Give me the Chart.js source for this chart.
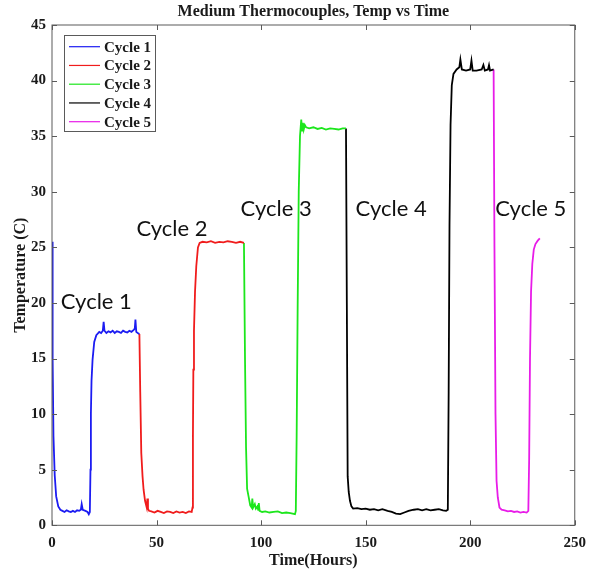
<!DOCTYPE html>
<html>
<head>
<meta charset="utf-8">
<script src="https://cdn.jsdelivr.net/npm/chart.js@4.4.1/dist/chart.umd.min.js"></script>
<style>
  html, body { margin: 0; padding: 0; background: #ffffff; }
  #wrap { width: 595px; height: 571px; }
</style>
</head>
<body>
<div id="wrap"><canvas id="chart" width="595" height="571"></canvas></div>
<script>
// Medium thermocouple readings, five heating/cooling cycles
const cycleLabels = ['Cycle 1', 'Cycle 2', 'Cycle 3', 'Cycle 4', 'Cycle 5'];

const cycle1Hours = [0, 0.3, 0.7, 1.3, 2, 3, 4, 5, 6, 7, 8, 9, 10, 11, 12, 13, 13.8, 14.2, 14.7, 16, 17, 17.6, 18.1, 18.4, 18.6, 18.9, 19.4, 20.2, 21.2, 22.6, 23.5, 24.3, 24.7, 25.1, 26, 27, 28, 29, 30, 31, 32, 33, 34, 35, 36, 37, 38, 39.2, 39.6, 39.9, 40.3, 41, 41.8];
const cycle1Temps = [25.5, 15, 8, 4.5, 2.6, 1.7, 1.4, 1.3, 1.2, 1.35, 1.25, 1.2, 1.3, 1.2, 1.35, 1.3, 1.4, 1.9, 1.4, 1.3, 1.2, 1.0, 1.2, 5, 10, 13, 14.9, 16.5, 17.1, 17.4, 17.3, 17.5, 18.3, 17.5, 17.3, 17.45, 17.35, 17.5, 17.3, 17.45, 17.4, 17.3, 17.5, 17.4, 17.35, 17.5, 17.4, 17.6, 17.7, 18.5, 17.4, 17.3, 17.2];

const cycle2Hours = [41.8, 42.2, 42.7, 43.3, 43.8, 44.5, 45.3, 45.6, 45.9, 46.4, 47.5, 49, 50.5, 52, 53.5, 55, 56.5, 58, 59.5, 61, 62.5, 64, 65.5, 66.8, 67.2, 67.4, 67.6, 67.9, 68.4, 69, 69.8, 70.6, 72, 74, 76, 78, 80, 82, 84, 86, 88, 90, 91.8];
const cycle2Temps = [17.2, 12, 6.5, 4.4, 3.2, 2.2, 1.6, 2.4, 1.5, 1.3, 1.25, 1.15, 1.3, 1.2, 1.1, 1.25, 1.2, 1.1, 1.25, 1.15, 1.2, 1.1, 1.25, 1.2, 1.6, 8, 14, 17.5, 21, 23.3, 25, 25.4, 25.5, 25.45, 25.55, 25.4, 25.5, 25.45, 25.55, 25.5, 25.4, 25.5, 25.4];

const cycle3Hours = [91.8, 92.3, 92.8, 93.3, 94, 94.8, 95.5, 95.8, 96.2, 97, 97.5, 98.2, 98.6, 98.9, 99.3, 100.5, 102, 104, 106, 108, 110, 112, 114, 116.2, 116.6, 117.0, 117.5, 118.0, 118.6, 119.2, 119.6, 120.0, 120.4, 120.9, 121.5, 123, 125, 127, 129, 131, 133, 135, 137, 139, 140.6];
const cycle3Temps = [25.4, 15, 7, 3.3, 2.6, 1.8, 1.6, 2.4, 1.6, 1.9, 1.5, 1.7, 1.4, 2.0, 1.3, 1.2, 1.25, 1.15, 1.2, 1.25, 1.1, 1.15, 1.1, 1.0, 1.3, 8, 20, 30, 35, 36.5, 35.5, 36.2, 35.6, 36, 35.8, 35.7, 35.8, 35.65, 35.75, 35.6, 35.7, 35.65, 35.6, 35.7, 35.7];

const cycle4Hours = [140.6, 141.0, 141.4, 141.9, 142.5, 143.2, 144, 146, 148, 150, 152, 154, 156, 158, 160.5, 162.5, 164.5, 166.5, 168.5, 170.5, 173, 175, 177, 179, 181, 183, 185, 187, 188.5, 189.3, 189.7, 190.1, 190.6, 191.2, 192, 193.5, 194.8, 195.3, 196, 198, 200, 200.6, 201.2, 203, 205.5, 206.3, 207, 208.5, 209, 209.5, 211.2];
const cycle4Temps = [35.7, 20, 4.4, 3, 2.2, 1.7, 1.5, 1.55, 1.45, 1.5, 1.4, 1.45, 1.35, 1.45, 1.3, 1.2, 1.05, 1.0, 1.15, 1.3, 1.4, 1.45, 1.35, 1.45, 1.35, 1.4, 1.45, 1.35, 1.3, 1.4, 12, 27, 36, 39.6, 40.6, 41.0, 41.2, 41.9, 41.0, 40.9, 41.0, 41.8, 40.9, 40.9, 41.0, 41.4, 40.9, 41.0, 41.4, 40.9, 41.0];

const cycle5Hours = [211.2, 211.6, 212.1, 212.6, 213.2, 214, 215, 216.5, 218, 219.5, 221, 222.5, 224, 225.5, 227, 227.8, 228.2, 228.6, 229.1, 229.7, 230.4, 231.2, 232.3, 233.3];
const cycle5Temps = [41.0, 25, 10, 4, 2.5, 1.6, 1.4, 1.35, 1.25, 1.3, 1.2, 1.25, 1.15, 1.2, 1.15, 1.3, 6, 15, 21, 23.5, 24.8, 25.3, 25.6, 25.8];

const cycleHours = [cycle1Hours, cycle2Hours, cycle3Hours, cycle4Hours, cycle5Hours];
const cycleTemps = [cycle1Temps, cycle2Temps, cycle3Temps, cycle4Temps, cycle5Temps];

// Line colours, one per cycle
const cycleColors = ['#1c1cf2', '#f01c1c', '#1ce61c', '#000000', '#e81ce8'];

const serif = '"Liberation Serif", "Times New Roman", serif';
const sans = 'Lato, "Open Sans", sans-serif';
const inkColor = '#1a1a1a';
const frameColor = '#5a5a5a';

const toPoints = (xs, ys) => xs.map((x, i) => ({ x: x, y: ys[i] }));

const datasets = cycleLabels.map((label, i) => ({
  label: label,
  data: toPoints(cycleHours[i], cycleTemps[i]),
  borderColor: cycleColors[i],
  backgroundColor: cycleColors[i],
  borderWidth: 1.8,
  pointRadius: 0,
  showLine: true,
  fill: false,
  tension: 0
}));

// Box around the axes, inward tick marks, legend and cycle captions
const framePlugin = {
  id: 'frame',
  afterDraw(chart, args, opts) {
    const ctx = chart.ctx;
    const area = chart.chartArea;
    const xs = chart.scales.x;
    const ys = chart.scales.y;
    ctx.save();

    // axes box
    ctx.strokeStyle = frameColor;
    ctx.lineWidth = 1;
    ctx.strokeRect(area.left, area.top, area.right - area.left, area.bottom - area.top);

    // inward ticks on all four sides
    const tl = 5;
    ctx.beginPath();
    xs.ticks.forEach(t => {
      const px = Math.round(xs.getPixelForValue(t.value)) + 0.5;
      ctx.moveTo(px, area.bottom); ctx.lineTo(px, area.bottom - tl);
      ctx.moveTo(px, area.top); ctx.lineTo(px, area.top + tl);
    });
    ys.ticks.forEach(t => {
      const py = Math.round(ys.getPixelForValue(t.value)) + 0.5;
      ctx.moveTo(area.left, py); ctx.lineTo(area.left + tl, py);
      ctx.moveTo(area.right, py); ctx.lineTo(area.right - tl, py);
    });
    ctx.stroke();

    // legend
    const lg = opts.legend;
    ctx.fillStyle = '#ffffff';
    ctx.fillRect(lg.left, lg.top, lg.width, lg.height);
    ctx.strokeStyle = frameColor;
    ctx.lineWidth = 1;
    ctx.strokeRect(lg.left + 0.5, lg.top + 0.5, lg.width, lg.height);
    ctx.font = 'bold 15px ' + serif;
    ctx.textBaseline = 'middle';
    ctx.textAlign = 'left';
    chart.data.datasets.forEach((ds, i) => {
      const y = lg.top + lg.firstRow + i * lg.rowStep;
      ctx.strokeStyle = ds.borderColor;
      ctx.lineWidth = 1.2;
      ctx.beginPath();
      ctx.moveTo(lg.left + 5, y);
      ctx.lineTo(lg.left + 36, y);
      ctx.stroke();
      ctx.fillStyle = inkColor;
      ctx.fillText(ds.label, lg.left + 40, y + 1);
    });

    // cycle captions placed in data coordinates
    ctx.font = opts.captionFont;
    ctx.fillStyle = '#111111';
    ctx.textBaseline = 'alphabetic';
    opts.captions.forEach(c => {
      ctx.fillText(c.text, xs.getPixelForValue(c.x), ys.getPixelForValue(c.y));
    });

    ctx.restore();
  }
};

new Chart(document.getElementById('chart'), {
  type: 'scatter',
  data: { datasets: datasets },
  options: {
    responsive: false,
    animation: false,
    devicePixelRatio: 1,
    layout: { padding: { top: 0, right: 12.5, bottom: 0, left: 0 } },
    scales: {
      x: {
        type: 'linear',
        min: 0,
        max: 250,
        afterFit(scale) { scale.height = 45.7; },
        border: { display: false },
        grid: { display: false, drawTicks: false },
        ticks: {
          stepSize: 50,
          padding: 9,
          maxRotation: 0,
          color: inkColor,
          font: { family: serif, size: 15, weight: 'bold' }
        },
        title: {
          display: true,
          text: 'Time(Hours)',
          color: inkColor,
          font: { family: serif, size: 16, weight: 'bold' },
          padding: { top: 0, bottom: 1 }
        }
      },
      y: {
        type: 'linear',
        min: 0,
        max: 45,
        afterFit(scale) { scale.width = 52; },
        border: { display: false },
        grid: { display: false, drawTicks: false },
        ticks: {
          stepSize: 5,
          padding: 6,
          color: inkColor,
          font: { family: serif, size: 15, weight: 'bold' }
        },
        title: {
          display: true,
          text: 'Temperature (C)',
          color: inkColor,
          font: { family: serif, size: 16, weight: 'bold' },
          padding: { top: 11, bottom: 0 }
        }
      }
    },
    plugins: {
      legend: { display: false },
      tooltip: { enabled: false },
      title: {
        display: true,
        fullSize: false,
        text: 'Medium Thermocouples, Temp vs Time',
        color: inkColor,
        font: { family: serif, size: 16, weight: 'bold' },
        padding: { top: 2.5, bottom: 3.3 }
      },
      frame: {
        legend: { left: 64, top: 35, width: 91, height: 96, firstRow: 11.7, rowStep: 18.75 },
        captionFont: '22px ' + sans,
        captions: [
          { text: 'Cycle 1', x: 4.2, y: 19.5 },
          { text: 'Cycle 2', x: 40.4, y: 26.0 },
          { text: 'Cycle 3', x: 90.2, y: 27.8 },
          { text: 'Cycle 4', x: 145.2, y: 27.8 },
          { text: 'Cycle 5', x: 212.0, y: 27.8 }
        ]
      }
    }
  },
  plugins: [framePlugin]
});
</script>
</body>
</html>
